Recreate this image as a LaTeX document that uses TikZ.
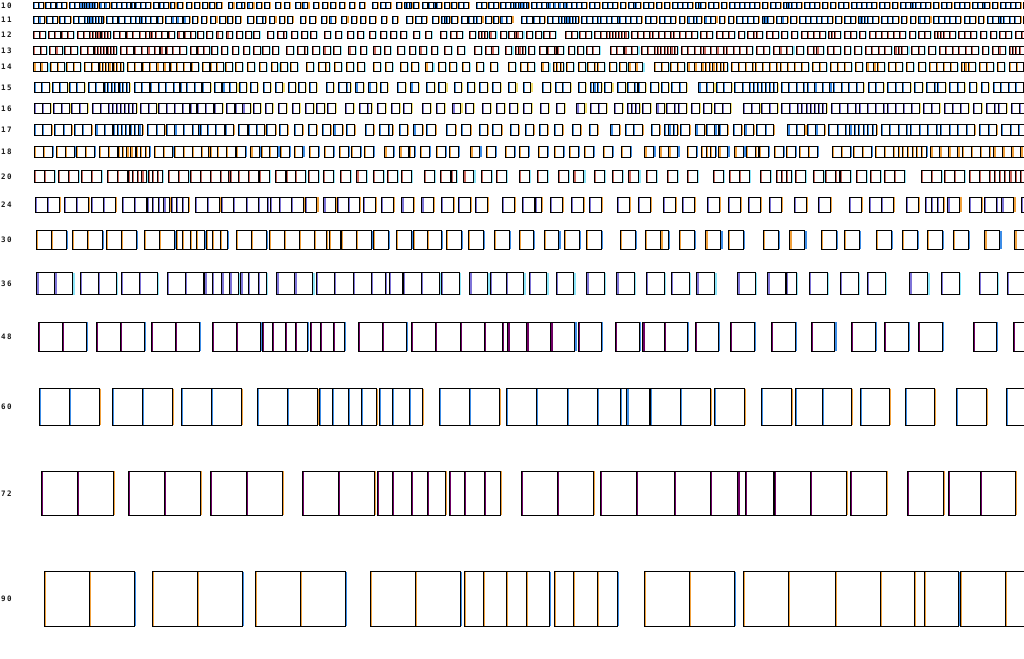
\documentclass[tikz,border=0pt]{standalone}
\usepackage{fontspec}
\newfontfamily\labfont[LetterSpace=20]{DejaVu Sans Mono Bold}
\definecolor{cblue}{RGB}{60,140,230}
\definecolor{corange}{RGB}{240,160,60}
\definecolor{cpurple}{RGB}{125,115,215}
\definecolor{dpurple}{RGB}{110,0,100}
\definecolor{cred}{RGB}{205,105,95}
\definecolor{ccyan}{RGB}{140,230,250}
\definecolor{cyellow}{RGB}{245,225,110}
\tikzset{
  boxline/.style={draw=black, line width=1pt},
  fringe/.style={line width=1.2pt},
  lab/.style={anchor=west, inner sep=0pt, font=\labfont\fontsize{7.5}{7.5}\selectfont, text=black!90}
}
\def\seqlist{0.000/0.5, 0.500/0.5, 1.208/0.5, 1.708/0.5, 2.354/0.5, 2.854/0.5, 3.625/0.5, 4.125/0.5, 4.667/0.216, 4.883/0.257, 5.140/0.223, 5.363/0.25, 5.667/0.216, 5.883/0.271, 6.154/0.221, 6.667/0.5, 7.167/0.5, 7.771/0.5, 8.271/0.521, 8.792/0.5, 9.292/0.383, 9.675/0.11, 9.785/0.38, 10.181/0.5, 10.681/0.5, 11.244/0.494, 12.029/0.5, 12.596/0.453, 13.049/0.479, 13.682/0.486, 14.425/0.492, 15.279/0.492, 16.113/0.483, 16.937/0.496, 17.625/0.5, 18.335/0.498, 19.473/0.494, 20.306/0.5, 20.83/0.26, 21.46/0.5, 22.33/0.5, 23.08/0.5, 24.25/0.5, 25.13/0.5, 26.17/0.5, 26.96/0.5, 28.00/0.5, 28.88/0.5, 29.71/0.5, 30.58/0.5, 31.63/0.5, 32.63/0.5, 33.92/0.5, 34.75/0.5, 35.25/0.5, 36.29/0.5, 37.08/0.25, 37.33/0.25, 37.58/0.25, 38.03/0.5, 38.92/0.5, 39.54/0.5, 40.04/0.21, 40.28/0.5, 41.1/0.5, 41.8/0.5, 42.5/0.5, 43.0/0.5, 44.33/0.5, 44.83/0.5, 45.48/0.5, 45.98/0.5, 46.72/0.5, 47.22/0.5, 47.72/0.26, 47.98/0.26, 48.24/0.26, 48.5/0.26, 48.76/0.26, 49.02/0.26, 49.28/0.26, 49.81/0.5, 50.31/0.5, 50.81/0.5, 51.31/0.25, 51.56/0.5, 52.06/0.5, 52.56/0.5, 53.06/0.25, 53.31/0.5, 53.81/0.5, 54.31/0.5, 54.81/0.5, 55.6/0.5, 56.1/0.5, 56.9/0.5, 57.4/0.5, 57.9/0.5, 58.7/0.5, 59.5/0.5, 60.0/0.25, 60.25/0.5, 61.05/0.5, 61.55/0.5, 62.35/0.5, 63.15/0.5, 63.95/0.5, 64.45/0.5, 64.95/0.5, 65.45/0.5, 66.25/0.25, 66.5/0.25, 66.75/0.5, 67.55/0.5, 68.05/0.5, 68.85/0.5, 69.65/0.5, 70.15/0.5, 70.65/0.5, 71.15/0.5, 71.65/0.5, 72.15/0.5, 72.95/0.5, 73.75/0.5, 74.25/0.5, 75.05/0.25, 75.3/0.25, 75.55/0.25, 75.8/0.5, 76.3/0.5, 77.1/0.5, 77.6/0.5, 78.1/0.5, 78.9/0.5, 79.7/0.5, 80.5/0.5, 81.0/0.5, 81.8/0.5, 82.3/0.5, 82.8/0.5, 83.3/0.5, 83.8/0.5, 84.6/0.5, 85.1/0.5, 85.9/0.5, 86.7/0.5, 87.2/0.5, 87.7/0.25, 87.95/0.25, 88.2/0.5, 88.7/0.5, 89.2/0.5, 90.0/0.5, 90.8/0.5, 91.3/0.5, 92.1/0.5, 92.6/0.5, 93.1/0.5, 93.9/0.5, 94.4/0.5, 94.9/0.25, 95.15/0.5, 95.95/0.5, 96.75/0.5, 97.25/0.5, 97.75/0.5, 98.25/0.5, 99.05/0.5, 99.55/0.5}
% #1 size, #2 centre y, #3 start x, #4 left fringe colour, #5 right fringe colour
\newcommand\tofurow[5]{%
  \node[lab] (lab#1) at (1,#2) {#1};
  \pgfmathsetmacro\hh{0.3*#1+0.25}%
  \foreach \a/\w in \seqlist {%
    \pgfmathsetmacro\xa{#3+\a*#1}%
    \pgfmathsetmacro\xb{\xa+\w*#1}%
    \ifdim\xa pt<1025pt
      \draw[fringe,#4] (\xa+1,#2-\hh) -- (\xa+1,#2+\hh);
      \draw[fringe,#5] (\xb+1,#2-\hh) -- (\xb+1,#2+\hh);
      \draw[boxline] (\xa,#2-\hh) rectangle (\xb,#2+\hh);
    \fi
  }%
}
\begin{document}
\begin{tikzpicture}[x=1pt,y=-1pt]
\useasboundingbox (0,0) rectangle (1024,658);
\fill[white] (0,0) rectangle (1024,658);
\clip (0,0) rectangle (1024,658);
\tofurow{10}{5.7}{33.3}{cblue}{corange}
\tofurow{11}{19.7}{33.4}{cblue}{corange}
\tofurow{12}{35}{33.6}{cred}{ccyan}
\tofurow{13}{50.5}{33.7}{cred}{ccyan}
\tofurow{14}{67.2}{33.9}{corange}{ccyan}
\tofurow{15}{87.7}{34}{cblue}{cyellow}
\tofurow{16}{108.3}{34.2}{cpurple}{cyellow}
\tofurow{17}{130}{34.3}{cblue}{corange}
\tofurow{18}{151.8}{34.4}{corange}{cblue}
\tofurow{20}{176.3}{34.7}{cred}{ccyan}
\tofurow{24}{204.8}{35.2}{cpurple}{corange}
\tofurow{30}{240.2}{36}{corange}{cblue}
\tofurow{36}{283.8}{36.9}{cpurple}{ccyan}
\tofurow{48}{336.8}{38.3}{dpurple}{cblue}
\tofurow{60}{406.8}{39.8}{cblue}{corange}
\tofurow{72}{493.3}{41.3}{dpurple}{corange}
\tofurow{90}{599}{44}{corange}{cblue}
\end{tikzpicture}
\end{document}
